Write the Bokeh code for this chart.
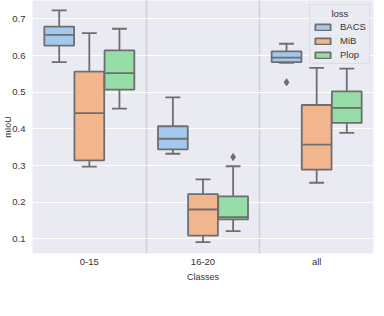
from bokeh.plotting import figure
from bokeh.models import (FixedTicker, Legend, LegendItem, ColumnDataSource, Range1d)
from bokeh.embed import file_html
from bokeh.resources import INLINE

# ---- data -------------------------------------------------------------
categories = ["0-15", "16-20", "all"]
losses = ["BACS", "MiB", "Plop"]
colors = ["#a5c8ef", "#f2b68f", "#96dca6"]

# five-number summaries, one value per category (0-15, 16-20, all)
lower_whisker = {"BACS": [0.582, 0.332, 0.580],
                 "MiB":  [0.297, 0.091, 0.253],
                 "Plop": [0.455, 0.121, 0.389]}
q1 = {"BACS": [0.627, 0.344, 0.582],
      "MiB":  [0.314, 0.109, 0.289],
      "Plop": [0.507, 0.153, 0.416]}
median = {"BACS": [0.656, 0.373, 0.594],
          "MiB":  [0.443, 0.180, 0.357],
          "Plop": [0.552, 0.159, 0.457]}
q3 = {"BACS": [0.679, 0.407, 0.611],
      "MiB":  [0.556, 0.222, 0.465],
      "Plop": [0.614, 0.216, 0.502]}
upper_whisker = {"BACS": [0.723, 0.486, 0.632],
                 "MiB":  [0.661, 0.262, 0.566],
                 "Plop": [0.673, 0.298, 0.564]}

outlier_category = ["16-20", "all"]
outlier_loss = ["Plop", "BACS"]
outlier_value = [0.323, 0.527]

y_ticks = [0.1, 0.2, 0.3, 0.4, 0.5, 0.6, 0.7]

# ---- figure -----------------------------------------------------------
LINE = "#6e6e6e"
BG = "#eaeaf2"
FONT = "Liberation Sans"

p = figure(width=376, height=308, output_backend="svg", toolbar_location=None,
           title=None, x_range=Range1d(-0.5, 2.5), y_range=Range1d(0.060, 0.750),
           min_border_left=32, min_border_right=3, min_border_top=0,
           min_border_bottom=55)
p.background_fill_color = BG
p.border_fill_color = "white"
p.outline_line_color = None

offsets = [-0.265, 0.0, 0.265]
box_w = 0.262
cap_w = box_w / 2

legend_items = []
for k, loss in enumerate(losses):
    xs = [i + offsets[k] for i in range(len(categories))]
    src = ColumnDataSource(dict(
        x=xs, x0=[x - cap_w / 2 for x in xs], x1=[x + cap_w / 2 for x in xs],
        bx0=[x - box_w / 2 for x in xs], bx1=[x + box_w / 2 for x in xs],
        lo=lower_whisker[loss], q1=q1[loss], med=median[loss], q3=q3[loss],
        hi=upper_whisker[loss]))
    # whiskers
    p.segment(x0="x", y0="q3", x1="x", y1="hi", source=src, line_color=LINE, line_width=1.8)
    p.segment(x0="x", y0="q1", x1="x", y1="lo", source=src, line_color=LINE, line_width=1.8)
    # caps
    p.segment(x0="x0", y0="hi", x1="x1", y1="hi", source=src, line_color=LINE, line_width=1.8)
    p.segment(x0="x0", y0="lo", x1="x1", y1="lo", source=src, line_color=LINE, line_width=1.8)
    # boxes
    r = p.vbar(x="x", width=box_w, bottom="q1", top="q3", source=src,
               fill_color=colors[k], line_color=LINE, line_width=1.8)
    # medians
    p.segment(x0="bx0", y0="med", x1="bx1", y1="med", source=src,
              line_color=LINE, line_width=1.8)
    legend_items.append(LegendItem(label=loss, renderers=[r]))

# outliers
ox = [categories.index(c) + offsets[losses.index(l)]
      for c, l in zip(outlier_category, outlier_loss)]
p.scatter(x=ox, y=outlier_value, marker="diamond", size=7,
          fill_color=LINE, line_color=LINE)

# ---- axes & grid ------------------------------------------------------
p.xaxis.ticker = FixedTicker(ticks=list(range(len(categories))))
p.xaxis.major_label_overrides = {i: c for i, c in enumerate(categories)}
p.xaxis.axis_label = "Classes"
p.yaxis.ticker = FixedTicker(ticks=y_ticks)
p.yaxis.axis_label = "mIoU"

for ax in (p.xaxis[0], p.yaxis[0]):
    ax.axis_line_color = None
    ax.major_tick_line_color = None
    ax.minor_tick_line_color = None
    ax.major_tick_out = 0
    ax.major_tick_in = 0
    ax.minor_tick_out = 0
    ax.minor_tick_in = 0
    ax.major_label_text_font = FONT
    ax.major_label_text_font_size = "9.5px"
    ax.major_label_text_color = "#333333"
    ax.axis_label_text_font = FONT
    ax.axis_label_text_font_size = "9px"
    ax.axis_label_text_font_style = "normal"
    ax.axis_label_text_color = "#333333"
p.xaxis.major_label_standoff = 2
p.xaxis.axis_label_standoff = 2
p.yaxis.major_label_standoff = 7
p.yaxis.axis_label_standoff = -4

p.ygrid.grid_line_color = "white"
p.ygrid.grid_line_width = 1.2
p.xgrid.ticker = FixedTicker(ticks=[0.5, 1.5, 2.5])
p.xgrid.grid_line_color = "#cfcfd5"
p.xgrid.grid_line_width = 1.5

# ---- legend -----------------------------------------------------------
legend = Legend(items=legend_items, location=(277, 189),
                title="\u00a0\u00a0\u00a0\u00a0\u00a0\u00a0\u00a0loss",
                title_text_font=FONT, title_text_font_size="9.5px",
                title_text_font_style="normal", title_text_color="#333333",
                title_standoff=2,
                label_text_font=FONT, label_text_font_size="9.5px",
                label_text_color="#333333", label_height=11, label_standoff=8,
                glyph_width=19, glyph_height=8, spacing=3, padding=3, margin=0,
                background_fill_color=BG, background_fill_alpha=0.8,
                border_line_color="#cfcfd5", border_line_width=1)
p.add_layout(legend)

open("out.html", "w").write(file_html(p, INLINE))
